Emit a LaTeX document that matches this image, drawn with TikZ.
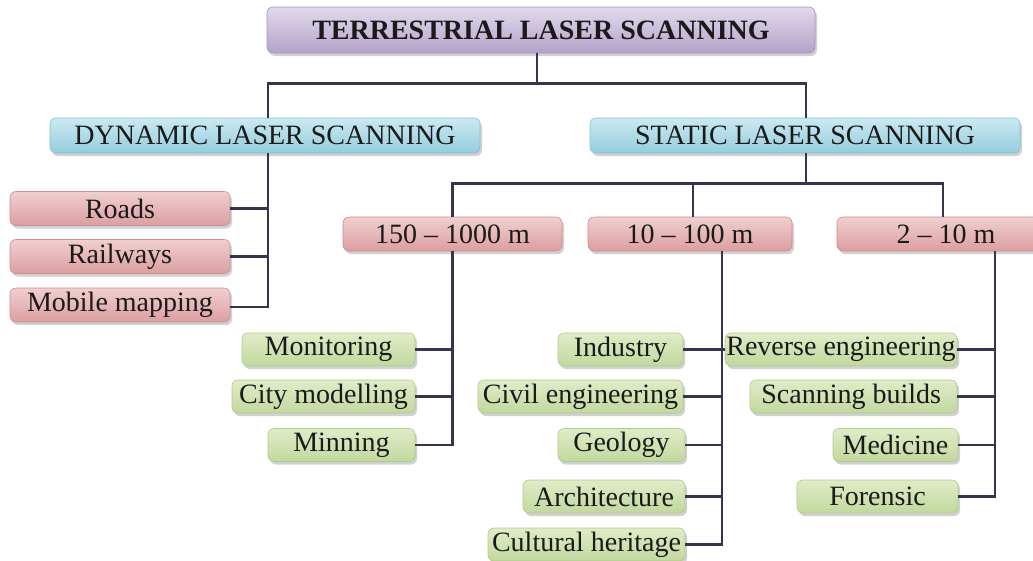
\documentclass[tikz,border=0pt]{standalone}
\usepackage{fontspec}
\setmainfont{Liberation Serif}
\usetikzlibrary{shadows,calc}

% fills of the four kinds of boxes
\definecolor{purT}{HTML}{E2DAEC}\definecolor{purM}{HTML}{EFEAF5}\definecolor{purB}{HTML}{B2A3C9}
\definecolor{purD}{HTML}{A393BD}
\definecolor{bluT}{HTML}{CBE9F1}\definecolor{bluM}{HTML}{E4F4F8}\definecolor{bluB}{HTML}{94CDDC}
\definecolor{bluD}{HTML}{84C1D2}
\definecolor{redT}{HTML}{F1CFD0}\definecolor{redM}{HTML}{F7E3E3}\definecolor{redB}{HTML}{DB9EA0}
\definecolor{redD}{HTML}{CE8C8F}
\definecolor{grnT}{HTML}{E0ECC8}\definecolor{grnM}{HTML}{EEF5E1}\definecolor{grnB}{HTML}{C1D89E}
\definecolor{grnD}{HTML}{AFCA87}
\definecolor{linkc}{RGB}{55,52,80}
\definecolor{inkc}{HTML}{1A1A1A}

\tikzset{
  boxbase/.style={rounded corners=6pt, inner sep=0pt, align=center,
    text=inkc, font=\fontsize{28}{30}\selectfont, line width=0.6pt,
    drop shadow={shadow xshift=2pt, shadow yshift=-3pt, opacity=0.3, fill=black!60}},
  rootbox/.style={boxbase, shade, top color=purT, middle color=purM, bottom color=purB,
    draw=purD, font=\fontsize{28}{30}\selectfont\bfseries, minimum height=46pt},
  kindbox/.style={boxbase, shade, top color=bluT, middle color=bluM, bottom color=bluB,
    draw=bluD, minimum height=35pt},
  rangebox/.style={boxbase, shade, top color=redT, middle color=redM, bottom color=redB,
    draw=redD, minimum height=34pt},
  usebox/.style={boxbase, shade, top color=grnT, middle color=grnM, bottom color=grnB,
    draw=grnD, minimum height=33pt},
  link/.style={draw=linkc, line width=2.5pt}
}

\begin{document}
\begin{tikzpicture}[x=1pt, y=-1pt]
\useasboundingbox (0,0) rectangle (1033,560);

% root and the two kinds of scanning
\node[rootbox, minimum width=548pt] (tls) at (541,30) {TERRESTRIAL LASER SCANNING};
\node[kindbox, minimum width=430pt] (dyn) at (265,135.5) {DYNAMIC LASER SCANNING};
\node[kindbox, minimum width=430pt] (sta) at (805,135.5) {STATIC LASER SCANNING};

% dynamic scanning uses
\node[rangebox, minimum width=220pt] (roads) at (120,208.5) {Roads};
\node[rangebox, minimum width=220pt] (rail)  at (120,256.5) {Railways};
\node[rangebox, minimum width=220pt] (mob)   at (120,305)   {Mobile mapping};

% static scanning ranges
\node[rangebox, minimum width=219pt] (r1) at (452.5,234) {150 – 1000 m};
\node[rangebox, minimum width=204pt] (r2) at (690,234)   {10 – 100 m};
\node[rangebox, minimum width=218pt] (r3) at (946,234)   {2 – 10 m};

% long range uses
\node[usebox, minimum width=173pt] (mon)  at (328.5,349.5) {Monitoring};
\node[usebox, minimum width=183pt] (city) at (323.5,396.5) {City modelling};
\node[usebox, minimum width=147pt] (min)  at (341.5,445)   {Minning};

% medium range uses
\node[usebox, minimum width=125pt] (ind)  at (620.5,349.5) {Industry};
\node[usebox, minimum width=205pt] (civ)  at (580.5,396.5) {Civil engineering};
\node[usebox, minimum width=127pt] (geo)  at (621.5,445)   {Geology};
\node[usebox, minimum width=162pt] (arch) at (604,496.5)   {Architecture};
\node[usebox, minimum width=197pt] (cult) at (586.5,544.5) {Cultural heritage};

% short range uses
\node[usebox, minimum width=232pt] (rev)  at (841,349.5)   {Reverse engineering};
\node[usebox, minimum width=207pt] (scan) at (853.5,396.5) {Scanning builds\,};
\node[usebox, minimum width=125pt] (med)  at (895.5,445)   {Medicine};
\node[usebox, minimum width=161pt] (for)  at (877.5,496.5) {Forensic};

% root to kinds
\draw[link] ([xshift=-4pt]tls.south) -- ++(0,30) coordinate (j0);
\draw[link] ([xshift=3pt]dyn.north) |- (j0) -| ([xshift=1pt]sta.north);

% static to ranges
\draw[link] ([xshift=1pt]sta.south) -- ++(0,30) coordinate (j1);
\coordinate (u2) at ([xshift=3pt]r2.north);
\draw[link] (u2) -- (u2 |- j1);
\draw[link] (r1.north) |- (j1) -| ([xshift=-3pt]r3.north);

% dynamic branch
\coordinate (dv) at ([xshift=3pt]dyn.south);
\draw[link] (dv) |- ([yshift=-2pt]mob.east);
\draw[link] (roads.east) -- (roads.east -| dv);
\draw[link] (rail.east) -- (rail.east -| dv);

% long range branch
\coordinate (v1) at (r1.south);
\draw[link] (v1) |- (min.east);
\draw[link] (mon.east) -- (mon.east -| v1);
\draw[link] (city.east) -- (city.east -| v1);

% medium range branch
\coordinate (v2) at ([xshift=32pt]r2.south);
\draw[link] (v2) |- (cult.east);
\draw[link] (ind.east) -- (rev.west);
\draw[link] (civ.east) -- (civ.east -| v2);
\draw[link] (geo.east) -- (geo.east -| v2);
\draw[link] (arch.east) -- (arch.east -| v2);

% short range branch
\coordinate (v3) at ([xshift=49pt]r3.south);
\draw[link] (v3) |- (for.east);
\draw[link] (rev.east) -- (rev.east -| v3);
\draw[link] (scan.east) -- (scan.east -| v3);
\draw[link] (med.east) -- (med.east -| v3);
\end{tikzpicture}
\end{document}
